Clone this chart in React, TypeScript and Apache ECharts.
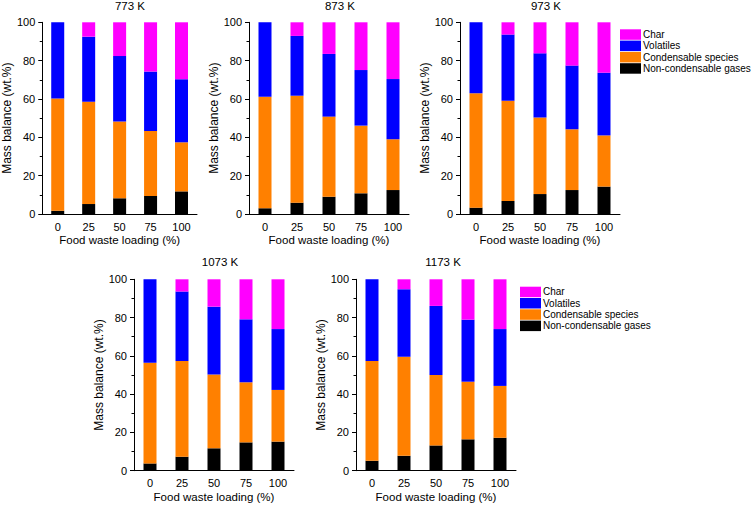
import React, { useEffect, useRef } from "react";
import * as echarts from "echarts";

const categories = ["0", "25", "50", "75", "100"];
const temperatures = ["773 K", "873 K", "973 K", "1073 K", "1173 K"];
const seriesNames = ["Non-condensable gases", "Condensable species", "Volatiles", "Char"];
const legendOrder = ["Char", "Volatiles", "Condensable species", "Non-condensable gases"];
const colors = ["#000000", "#FF8000", "#0000FF", "#FF00FF"];

// values per temperature: [non-condensable, condensable, volatiles, char]
const nc773 = [1.7, 5.2, 8.2, 9.4, 11.8];
const cs773 = [58.6, 53.4, 40.0, 33.9, 25.6];
const vol773 = [39.7, 33.9, 34.2, 31.0, 32.9];
const char773 = [0, 7.5, 17.6, 25.7, 29.7];

const nc873 = [3.0, 5.9, 9.0, 10.8, 12.5];
const cs873 = [58.2, 55.8, 41.8, 35.3, 26.5];
const vol873 = [38.8, 31.2, 32.7, 29.0, 31.4];
const char873 = [0, 7.1, 16.5, 24.9, 29.6];

const nc973 = [3.3, 6.8, 10.4, 12.5, 14.3];
const cs973 = [59.7, 52.3, 39.9, 31.7, 26.7];
const vol973 = [37.0, 34.5, 33.5, 33.2, 32.7];
const char973 = [0, 6.4, 16.2, 22.6, 26.3];

const nc1073 = [3.8, 7.3, 11.7, 14.8, 15.2];
const cs1073 = [52.6, 50.0, 38.6, 31.4, 27.0];
const vol1073 = [43.6, 36.3, 35.4, 32.9, 31.8];
const char1073 = [0, 6.4, 14.3, 20.9, 26.0];

const nc1173 = [5.2, 7.8, 13.2, 16.4, 17.2];
const cs1173 = [52.1, 51.8, 36.8, 30.1, 27.1];
const vol1173 = [42.7, 35.2, 36.1, 32.4, 29.7];
const char1173 = [0, 5.2, 13.9, 21.1, 26.0];

const panelData = [
  [nc773, cs773, vol773, char773],
  [nc873, cs873, vol873, char873],
  [nc973, cs973, vol973, char973],
  [nc1073, cs1073, vol1073, char1073],
  [nc1173, cs1173, vol1173, char1173],
];

const FONT = "Arial, 'Liberation Sans', sans-serif";

const grids = [
  { left: 37, top: 22.3, width: 160, height: 191.7 },
  { left: 249, top: 22.3, width: 160, height: 191.7 },
  { left: 460, top: 22.3, width: 160, height: 191.7 },
  { left: 134, top: 279.3, width: 160, height: 191.4 },
  { left: 356, top: 279.3, width: 160, height: 191.4 },
];
const titlePos = [
  [130, 6],
  [340, 6],
  [546, 6],
  [220, 262],
  [443, 262],
];

export default function App() {
  const ref = useRef<HTMLDivElement>(null);
  useEffect(() => {
    document.body.style.margin = "0";
    if (!ref.current) return;
    const chart = echarts.init(ref.current, undefined, { renderer: "svg" });
    const xAxes: any[] = [];
    const yAxes: any[] = [];
    const series: any[] = [];
    grids.forEach((g, i) => {
      xAxes.push({
        type: "category",
        gridIndex: i,
        data: categories,
        name: "Food waste loading (%)",
        nameLocation: "middle",
        nameGap: 20,
        nameTextStyle: { fontSize: 11.5, color: "#000", fontFamily: FONT },
        axisLine: { lineStyle: { color: "#000", width: 1 } },
        axisTick: { show: false },
        axisLabel: { fontSize: 11, color: "#000", margin: 7, fontFamily: FONT },
      });
      yAxes.push({
        type: "value",
        gridIndex: i,
        min: 0,
        max: 100,
        interval: 20,
        name: "Mass balance (wt.%)",
        nameLocation: "middle",
        nameGap: 23,
        nameTextStyle: { fontSize: 12, color: "#000", fontFamily: FONT },
        axisLine: { show: true, lineStyle: { color: "#000", width: 1 } },
        axisTick: { show: true, length: 4, lineStyle: { color: "#000" } },
        minorTick: { show: true, splitNumber: 2, length: 2.5, lineStyle: { color: "#000" } },
        splitLine: { show: false },
        axisLabel: { fontSize: 11, color: "#000", margin: 7, fontFamily: FONT },
      });
      panelData[i].forEach((vals, k) => {
        series.push({
          type: "bar",
          name: seriesNames[k],
          xAxisIndex: i,
          yAxisIndex: i,
          stack: "s" + i,
          data: vals,
          barWidth: 13,
          itemStyle: { color: colors[k] },
        });
      });
    });
    const legendBase = {
      orient: "vertical",
      padding: 0,
      itemWidth: 21,
      itemHeight: 10.5,
      itemGap: 0.8,
      icon: "rect",
      data: legendOrder,
      textStyle: { fontSize: 10, color: "#000", fontFamily: FONT, padding: [0, 0, 0, -3], lineHeight: 10.5 },
    };
    chart.setOption({
      animation: false,
      backgroundColor: "#fff",
      color: colors,
      grid: grids.map((g) => ({ ...g, containLabel: false })),
      xAxis: xAxes,
      yAxis: yAxes,
      series,
      legend: [
        { ...legendBase, left: 620, top: 29.3 },
        { ...legendBase, left: 520, top: 286.7 },
      ],
      graphic: temperatures.map((t, i) => ({
        type: "text",
        x: titlePos[i][0],
        y: titlePos[i][1],
        style: {
          text: t,
          align: "center",
          verticalAlign: "middle",
          fontSize: 11.5,
          fill: "#000",
          fontFamily: FONT,
        },
      })),
    });
    return () => chart.dispose();
  }, []);
  return <div ref={ref} style={{ width: 751, height: 507 }} />;
}
